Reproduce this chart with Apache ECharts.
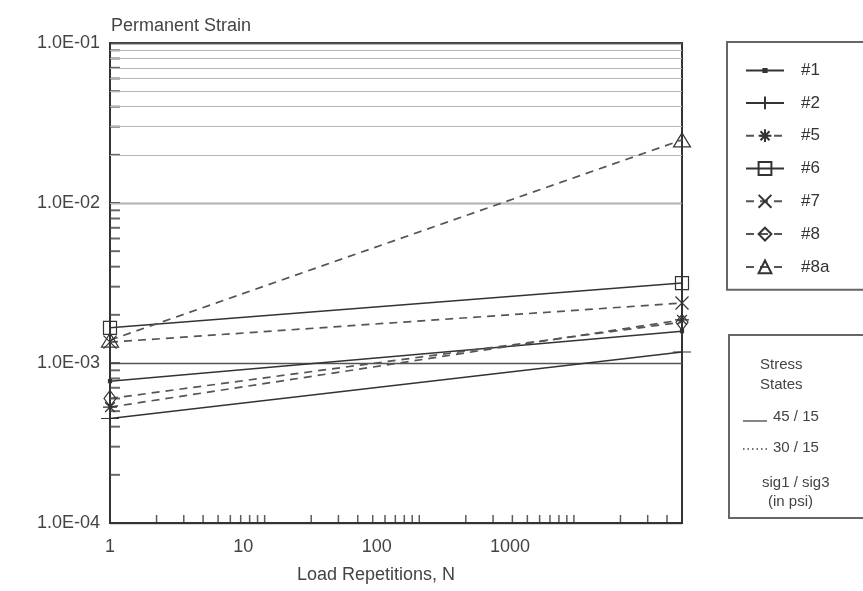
<!DOCTYPE html>
<html>
<head>
<meta charset="utf-8">
<script src="https://cdn.jsdelivr.net/npm/echarts@6/dist/echarts.min.js"></script>
<style>
  html, body { margin: 0; padding: 0; background: #fff; }
  #chart { width: 863px; height: 591px; }
</style>
</head>
<body>
<div id="chart"></div>
<script>
// ---- data ----
const loadReps = [1, 5000];
const s1  = [7.7e-4, 1.58e-3];
const s2  = [4.5e-4, 1.17e-3];
const s5  = [5.3e-4, 1.86e-3];
const s6  = [1.66e-3, 3.16e-3];
const s7  = [1.35e-3, 2.37e-3];
const s8  = [6.0e-4, 1.80e-3];
const s8a = [1.39e-3, 2.48e-2];

const xTickLabels = ['1', '10', '100', '1000'];
const yTickLabels = ['1.0E-04', '1.0E-03', '1.0E-02', '1.0E-01'];
const xMinorTicks = [2, 3, 4, 5, 6, 7, 8, 9, 10, 20, 30, 40, 50, 60, 70, 80, 90, 100,
                     200, 300, 400, 500, 600, 700, 800, 900, 1000, 2000, 3000, 4000];
const yMinorTicks = [2e-4, 3e-4, 4e-4, 5e-4, 6e-4, 7e-4, 8e-4, 9e-4, 1e-3,
                     2e-3, 3e-3, 4e-3, 5e-3, 6e-3, 7e-3, 8e-3, 9e-3, 1e-2,
                     2e-2, 3e-2, 4e-2, 5e-2, 6e-2, 7e-2, 8e-2, 9e-2];
const yMinorGrid = [2e-4, 3e-4, 4e-4, 5e-4, 6e-4, 7e-4, 8e-4, 9e-4,
                    2e-3, 3e-3, 4e-3, 5e-3, 6e-3, 7e-3, 8e-3, 9e-3,
                    2e-2, 3e-2, 4e-2, 5e-2, 6e-2, 7e-2, 8e-2, 9e-2];

// ---- styling ----
const FONT = '"Liberation Sans", Arial, sans-serif';
const TXT = '#444';
const DOT = 'path://M0,0M12,12M4.5,4.5L7.5,4.5L7.5,7.5L4.5,7.5Z';
const PLUS = 'path://M0,5L10,5M5,0L5,10';
const STAR = 'path://M5,0L5,10M0,5L10,5M1.5,1.5L8.5,8.5M8.5,1.5L1.5,8.5';
const CROSS = 'path://M0,0L10,10M10,0L0,10';

const defs = [
  { name: '#1',  values: s1,  dashed: false, symbol: DOT,        size: 12,       fill: '#333' },
  { name: '#2',  values: s2,  dashed: false, symbol: PLUS,       size: [18, 14], fill: 'none' },
  { name: '#5',  values: s5,  dashed: true,  symbol: STAR,       size: 14,       fill: 'none' },
  { name: '#6',  values: s6,  dashed: false, symbol: 'rect',     size: 13,       fill: 'none' },
  { name: '#7',  values: s7,  dashed: true,  symbol: CROSS,      size: 13,       fill: 'none' },
  { name: '#8',  values: s8,  dashed: true,  symbol: 'diamond',  size: [12, 16], fill: 'none' },
  { name: '#8a', values: s8a, dashed: true,  symbol: 'triangle', size: [17, 14], fill: 'none' }
];

const dataSeries = defs.map(d => ({
  name: d.name,
  type: 'line',
  xAxisIndex: 0,
  yAxisIndex: 0,
  data: loadReps.map((n, i) => [n, d.values[i]]),
  symbol: d.symbol,
  symbolSize: d.size,
  showSymbol: true,
  clip: false,
  z: 5,
  silent: true,
  lineStyle: {
    color: d.dashed ? '#555' : '#333',
    width: d.dashed ? 1.7 : 1.5,
    type: d.dashed ? [8, 6] : 'solid'
  },
  itemStyle: { color: d.fill, borderColor: '#333', borderWidth: 1.2 },
  emphasis: { disabled: true }
}));

const helperSeries = [
  {
    name: 'minorGrid', type: 'line', data: [], silent: true, z: 1,
    markLine: {
      silent: true, symbol: ['none', 'none'], label: { show: false },
      lineStyle: { color: '#b5b5b5', width: 1, type: 'solid' },
      emphasis: { disabled: true },
      data: yMinorGrid.map(v => ({ yAxis: v }))
    }
  },
  {
    name: 'xTicks', type: 'scatter', silent: true, clip: false, z: 4,
    data: xMinorTicks.map(v => [v, 1e-4]),
    symbol: 'rect', symbolSize: [1.5, 8], symbolOffset: [0, -4],
    itemStyle: { color: '#333' }
  },
  {
    name: 'yTicks', type: 'scatter', silent: true, clip: false, z: 4,
    data: yMinorTicks.map(v => [1, v]),
    symbol: 'rect', symbolSize: [10, 2], symbolOffset: [5, 0],
    itemStyle: { color: '#444' }
  }
];

const chart = echarts.init(document.getElementById('chart'), null, { renderer: 'canvas' });

chart.setOption({
  animation: false,
  backgroundColor: '#fff',
  textStyle: { fontFamily: FONT },
  title: {
    text: 'Permanent Strain', left: 106, top: 12,
    textStyle: { fontFamily: FONT, fontSize: 18, fontWeight: 'normal', color: TXT }
  },
  grid: {
    left: 110, right: 181, top: 43, bottom: 68,
    show: true, borderColor: '#333', borderWidth: 2, backgroundColor: 'transparent'
  },
  xAxis: [
    {
      type: 'log', logBase: 10, min: 1, max: 5000, position: 'bottom',
      axisLine: { show: true, lineStyle: { color: '#333', width: 2 } },
      axisTick: { show: false }, axisLabel: { show: false }, splitLine: { show: false },
      name: 'Load Repetitions, N', nameLocation: 'middle', nameGap: 43,
      nameTextStyle: { fontFamily: FONT, fontSize: 18, color: TXT, padding: [0, 40, 0, 0] }
    },
    {
      type: 'log', logBase: 10, min: 1, max: 19500, position: 'bottom',
      axisLine: { show: false }, axisTick: { show: false }, splitLine: { show: false },
      axisLabel: {
        show: true, margin: 15, fontFamily: FONT, fontSize: 18, color: TXT,
        showMaxLabel: false,
        formatter: (v, i) => (i < xTickLabels.length ? xTickLabels[i] : '')
      }
    }
  ],
  yAxis: {
    type: 'log', logBase: 10, min: 1e-4, max: 1e-1, splitNumber: 3,
    axisLine: { show: true, lineStyle: { color: '#333', width: 2 } },
    axisTick: { show: false },
    axisLabel: {
      margin: 10, fontFamily: FONT, fontSize: 18, color: TXT,
      formatter: (v, i) => yTickLabels[i] || ''
    },
    splitLine: { show: true, lineStyle: { color: '#555', width: 1.3 } }
  },
  legend: {
    data: defs.map(d => d.name),
    orient: 'vertical', left: 727, top: 42,
    padding: [20, 80, 14, 18],
    itemWidth: 38, itemHeight: 16, itemGap: 15,
    selectedMode: false,
    borderColor: '#666', borderWidth: 2, backgroundColor: '#fff',
    textStyle: { fontFamily: FONT, fontSize: 17, color: '#333', padding: [0, 0, 0, 12] }
  },
  graphic: [
    { type: 'rect', shape: { x: 729, y: 335, width: 200, height: 183 },
      style: { fill: '#fff', stroke: '#666', lineWidth: 2 }, z: 10 },
    { type: 'text', x: 760, y: 365, z: 11,
      style: { text: 'Stress', font: '15px ' + FONT, fill: TXT, verticalAlign: 'middle' } },
    { type: 'text', x: 760, y: 385, z: 11,
      style: { text: 'States', font: '15px ' + FONT, fill: TXT, verticalAlign: 'middle' } },
    { type: 'line', shape: { x1: 743, y1: 421, x2: 767, y2: 421 }, z: 11,
      style: { stroke: '#444', lineWidth: 1.3 } },
    { type: 'text', x: 773, y: 417, z: 11,
      style: { text: '45 / 15', font: '15px ' + FONT, fill: TXT, verticalAlign: 'middle' } },
    { type: 'line', shape: { x1: 743, y1: 449, x2: 768, y2: 449 }, z: 11,
      style: { stroke: '#444', lineWidth: 1.5, lineDash: [1.5, 3] } },
    { type: 'text', x: 773, y: 448, z: 11,
      style: { text: '30 / 15', font: '15px ' + FONT, fill: TXT, verticalAlign: 'middle' } },
    { type: 'text', x: 762, y: 483, z: 11,
      style: { text: 'sig1 / sig3', font: '15px ' + FONT, fill: TXT, verticalAlign: 'middle' } },
    { type: 'text', x: 768, y: 502, z: 11,
      style: { text: '(in psi)', font: '15px ' + FONT, fill: TXT, verticalAlign: 'middle' } }
  ],
  series: helperSeries.concat(dataSeries)
});
</script>
</body>
</html>
